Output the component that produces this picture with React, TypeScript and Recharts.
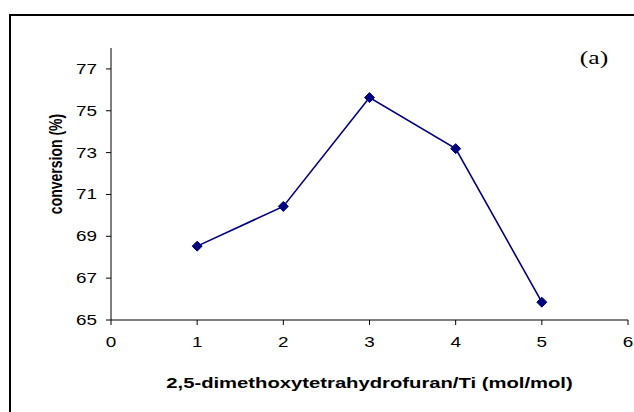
import React from "react";
import { LineChart, Line, XAxis, YAxis, Label } from "recharts";

const ratios = [1, 2, 3, 4, 5];
const conversion = [68.53, 70.43, 75.63, 73.19, 65.85];
const xTicks = [0, 1, 2, 3, 4, 5, 6];
const yTicks = [65, 67, 69, 71, 73, 75, 77];
const xTitle = "2,5-dimethoxytetrahydrofuran/Ti (mol/mol)";
const yTitle = "conversion (%)";
const panelTag = "(a)";

const data = ratios.map((r, i) => ({ ratio: r, conversion: conversion[i] }));

const S = 1.35;
const SANS = "'Liberation Sans', Arial, sans-serif";
const SERIF = "'Liberation Serif', 'Times New Roman', serif";
const NAVY = "#000080";

const YTick = (props: any) => {
  const { x, y, payload } = props;
  return (
    <g transform={`translate(${x},${y}) scale(${S},1)`}>
      <text x={0} y={0} dy="0.355em" textAnchor="end" fontSize={14} fontFamily={SANS} fill="#000">
        {payload.value}
      </text>
    </g>
  );
};

const XTick = (props: any) => {
  const { x, y, payload } = props;
  return (
    <g transform={`translate(${x},${y}) scale(${S},1)`}>
      <text x={0} y={0} dy="0.71em" textAnchor="middle" fontSize={14} fontFamily={SANS} fill="#000">
        {payload.value}
      </text>
    </g>
  );
};

const Diamond = (props: any) => {
  const { cx, cy } = props;
  if (cx == null || cy == null) return null;
  const r = 5;
  return (
    <polygon
      points={`${cx},${cy - r} ${cx + r},${cy} ${cx},${cy + r} ${cx - r},${cy}`}
      fill={NAVY}
      stroke={NAVY}
      strokeWidth={1}
    />
  );
};

const XTitle = (props: any) => {
  const vb = props.viewBox || { x: 111, y: 320, width: 517 };
  const cx = vb.x + vb.width / 2;
  return (
    <g transform={`translate(${cx},${vb.y + 63}) scale(${S},1)`}>
      <text x={0} y={0} dy="0.355em" textAnchor="middle" fontSize={15} fontWeight="bold" fontFamily={SANS} fill="#000">
        {xTitle}
      </text>
    </g>
  );
};

const YTitle = () => (
  <g>
    <path d="M10,420 L10,15 L640,15" fill="none" stroke="#000" strokeWidth={2} />
    <g transform={`translate(55,164) scale(${S},1) rotate(-90)`}>
      <text x={0} y={0} dy="0.355em" textAnchor="middle" fontSize={14} fontWeight="bold" fontFamily={SANS} fill="#000">
        {yTitle}
      </text>
    </g>
    <g transform={`translate(594,57) scale(${S},1)`}>
      <text x={0} y={0} dy="0.355em" textAnchor="middle" fontSize={19} fontFamily={SERIF} fill="#000">
        {panelTag}
      </text>
    </g>
  </g>
);

export default function App() {
  return (
    <div style={{ position: "absolute", left: 0, top: 0, width: 634, height: 412, overflow: "hidden", background: "#fff" }}>
      <LineChart width={634} height={412} data={data} margin={{ top: 48, right: 6, bottom: 0, left: 0 }}>
        <XAxis
          dataKey="ratio"
          type="number"
          domain={[0, 6]}
          ticks={xTicks}
          interval={0}
          height={92}
          tickSize={5}
          tickMargin={12}
          tick={<XTick />}
          axisLine={{ stroke: "#000", strokeWidth: 1 }}
          tickLine={{ stroke: "#000", strokeWidth: 1 }}
        >
          <Label content={<XTitle />} />
        </XAxis>
        <YAxis
          type="number"
          domain={[65, 78]}
          ticks={yTicks}
          interval={0}
          width={111}
          tickSize={5}
          tickMargin={9}
          tick={<YTick />}
          axisLine={{ stroke: "#000", strokeWidth: 1 }}
          tickLine={{ stroke: "#000", strokeWidth: 1 }}
        >
          <Label content={<YTitle />} />
        </YAxis>
        <Line
          type="linear"
          dataKey="conversion"
          stroke={NAVY}
          strokeWidth={1.6}
          dot={<Diamond />}
          activeDot={false}
          isAnimationActive={false}
        />
      </LineChart>
    </div>
  );
}
